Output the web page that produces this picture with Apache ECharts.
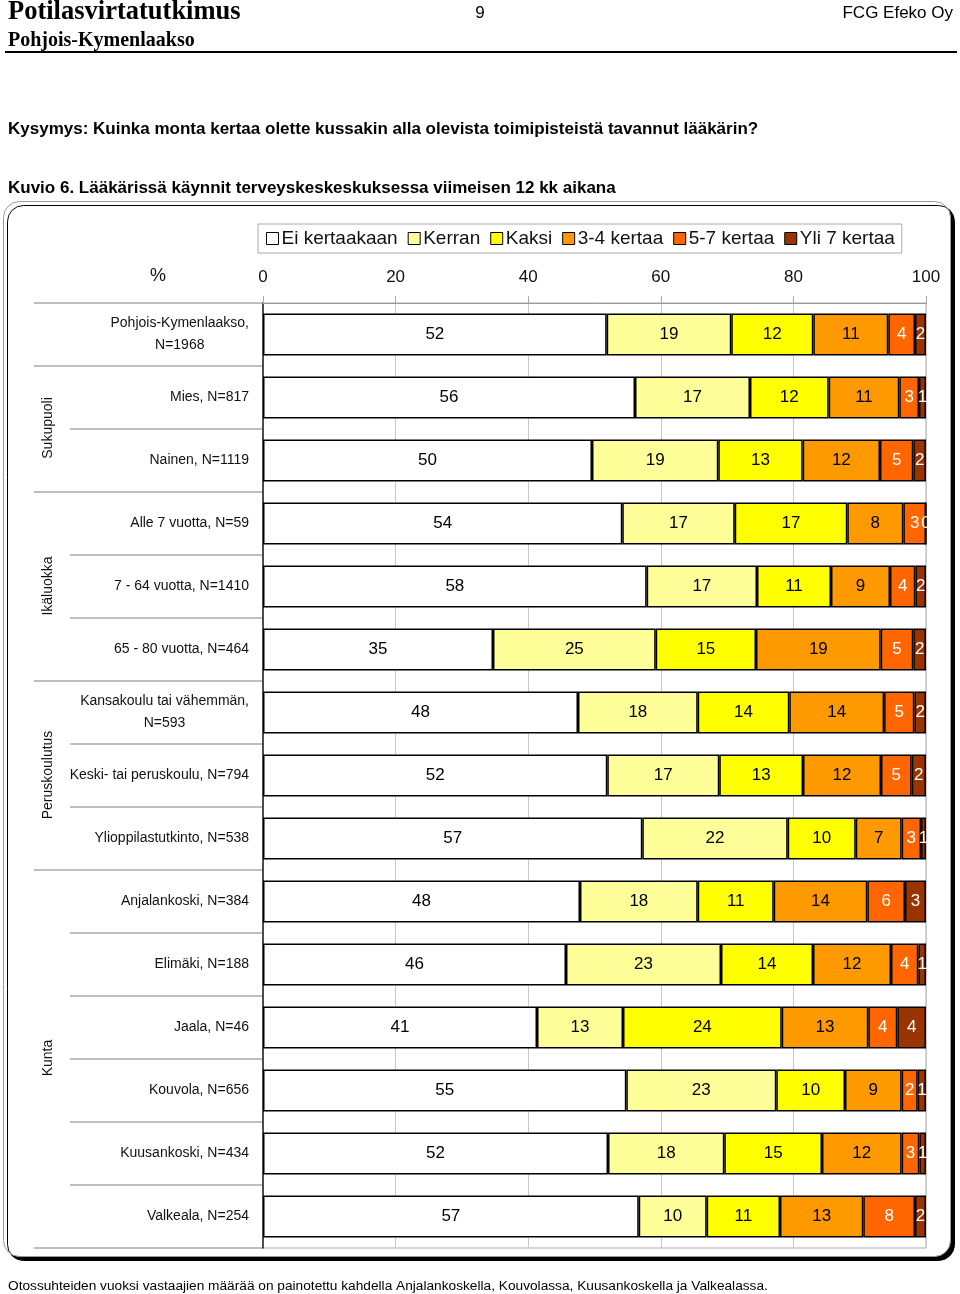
<!DOCTYPE html>
<html>
<head>
<meta charset="utf-8">
<script src="https://cdn.jsdelivr.net/npm/echarts@6/dist/echarts.min.js"></script>
<style>
html,body{margin:0;padding:0;background:#fff;}
#main{width:960px;height:1294px;}
</style>
</head>
<body>
<div id="main"></div>
<script>
// ---- data (shares in %; labels show rounded values) ----
const categories = [
  'Pohjois-Kymenlaakso,\nN=1968',
  'Mies, N=817',
  'Nainen, N=1119',
  'Alle 7 vuotta, N=59',
  '7 - 64 vuotta, N=1410',
  '65 - 80 vuotta, N=464',
  'Kansakoulu tai vähemmän,\nN=593',
  'Keski- tai peruskoulu, N=794',
  'Ylioppilastutkinto, N=538',
  'Anjalankoski, N=384',
  'Elimäki, N=188',
  'Jaala, N=46',
  'Kouvola, N=656',
  'Kuusankoski, N=434',
  'Valkeala, N=254'
];
const seriesNames = ['Ei kertaakaan', 'Kerran', 'Kaksi', '3-4 kertaa', '5-7 kertaa', 'Yli 7 kertaa'];
const eiKertaakaan = [51.84, 56.11, 49.62, 54.19, 57.87, 34.69, 47.51, 51.93, 57.21, 47.81, 45.70, 41.33, 54.80, 52.04, 56.67];
const kerran       = [18.79, 17.34, 19.05, 16.96, 16.64, 24.54, 18.06, 16.89, 21.93, 17.76, 23.38, 12.97, 22.62, 17.54, 10.25];
const kaksi        = [12.37, 11.87, 12.73, 16.98, 11.16, 15.13, 13.81, 12.63, 10.26, 11.46, 13.88, 23.94, 10.36, 14.73, 11.06];
const kertaa34     = [11.31, 10.65, 11.66,  8.45,  8.90, 18.81, 14.30, 11.76,  6.93, 14.12, 11.76, 13.06,  8.55, 12.02, 12.56];
const kertaa57     = [ 4.03,  2.97,  5.02,  3.42,  3.82,  4.91,  4.56,  4.63,  2.92,  5.68,  4.12,  4.37,  2.42,  2.66,  7.80];
const yli7         = [ 1.66,  1.06,  1.92,  0.00,  1.61,  1.92,  1.76,  2.16,  0.75,  3.17,  1.16,  4.33,  1.25,  1.01,  1.66];
const groupNames = ['Sukupuoli', 'Ikäluokka', 'Peruskoulutus', 'Kunta'];
const groupBoundaries = [0, 1, 3, 6, 9, 15];
const xTickLabels = [0, 20, 40, 60, 80, 100];

// ---- style ----
const colors = ['#FFFFFF', '#FFFF99', '#FFFF00', '#FF9900', '#FF6600', '#993300'];
const labelColors = ['#000', '#000', '#000', '#000', '#fff', '#fff'];
const SANS = "'Liberation Sans', Arial, sans-serif";
const SERIF = "'Liberation Serif', 'Times New Roman', serif";
const allValues = [eiKertaakaan, kerran, kaksi, kertaa34, kertaa57, yli7];

const chart = echarts.init(document.getElementById('main'), null, {renderer: 'canvas'});

const gridTop = 303, gridBottom = 46;

const series = seriesNames.map((name, i) => ({
  name: name,
  type: 'bar',
  stack: 'total',
  xAxisIndex: 0,
  yAxisIndex: 0,
  barWidth: 42,
  data: allValues[i],
  itemStyle: {color: colors[i], borderColor: '#000', borderWidth: 1.5},
  label: {
    show: true,
    position: 'inside',
    formatter: p => String(Math.round(p.value)),
    color: labelColors[i],
    fontSize: 17,
    fontFamily: SANS
  },
  labelLayout: {hideOverlap: false}
}));

const option = {
  backgroundColor: '#fff',
  animation: false,
  legend: {
    data: seriesNames,
    left: 258,
    top: 224,
    orient: 'horizontal',
    backgroundColor: '#fff',
    borderColor: '#aaa',
    borderWidth: 1,
    padding: [5, 7, 5, 8],
    itemGap: 10,
    itemWidth: 12,
    itemHeight: 12,
    icon: 'rect',
    itemStyle: {borderColor: '#000', borderWidth: 1},
    textStyle: {fontSize: 19, fontFamily: SANS, color: '#111', padding: [0, 0, 0, -2]},
    selectedMode: false
  },
  grid: [
    {left: 263, right: 34, top: gridTop, bottom: gridBottom, show: true, borderColor: '#aaa', borderWidth: 1, containLabel: false},
    {left: 70, width: 193, top: gridTop, bottom: gridBottom, containLabel: false},
    {left: 34, width: 36, top: gridTop, bottom: gridBottom, containLabel: false}
  ],
  xAxis: [
    {
      gridIndex: 0, type: 'value', position: 'top', min: 0, max: 100, interval: 20,
      axisLine: {show: true, lineStyle: {color: '#999', width: 1}},
      axisTick: {show: true, length: 7, lineStyle: {color: '#aaa'}},
      splitLine: {show: true, lineStyle: {color: '#c8c8c8', width: 1}},
      axisLabel: {
        margin: 17, fontSize: 17, fontFamily: SANS, color: '#111',
        formatter: v => String(xTickLabels[xTickLabels.indexOf(v)] ?? v)
      }
    },
    {gridIndex: 1, type: 'value', show: false},
    {gridIndex: 2, type: 'value', show: false}
  ],
  yAxis: [
    {
      gridIndex: 0, type: 'category', inverse: true, data: categories,
      axisLine: {show: true, lineStyle: {color: '#222', width: 1.5}},
      axisTick: {show: false},
      splitLine: {show: false},
      axisLabel: {
        margin: 14, fontSize: 14, fontFamily: SANS, color: '#111', lineHeight: 22,
        formatter: v => v.indexOf('\n') >= 0 ? v.split('\n').map(s => '{c|' + s + '}').join('\n') : v,
        rich: {c: {align: 'center', fontSize: 14, fontFamily: SANS, color: '#111', lineHeight: 22}}
      }
    },
    {
      gridIndex: 1, type: 'category', inverse: true, data: categories,
      axisLine: {show: false}, axisTick: {show: false}, axisLabel: {show: false},
      splitLine: {show: true, lineStyle: {color: '#aaa', width: 1.5}}
    },
    {
      gridIndex: 2, type: 'category', inverse: true, data: categories,
      axisLine: {show: false}, axisTick: {show: false}, axisLabel: {show: false},
      splitLine: {show: true, interval: (idx) => groupBoundaries.indexOf(idx) >= 0, lineStyle: {color: '#aaa', width: 1.5}}
    }
  ],
  series: series,
  graphic: [
    {type: 'rect', z: -10, silent: true,
      shape: {x: 3.5, y: 201.5, width: 947, height: 1055, r: 16},
      style: {fill: '#fff', stroke: '#999', lineWidth: 1, shadowColor: '#000', shadowOffsetX: 4, shadowOffsetY: 4, shadowBlur: 0}},
    {type: 'text', x: 8, y: 12, style: {text: 'Potilasvirtatutkimus', font: "bold 26.5px " + SERIF, fill: '#000', verticalAlign: 'middle'}},
    {type: 'text', x: 8, y: 41, style: {text: 'Pohjois-Kymenlaakso', font: "bold 20px " + SERIF, fill: '#000', verticalAlign: 'middle'}},
    {type: 'text', x: 480, y: 13, style: {text: '9', font: "17px " + SANS, fill: '#000', verticalAlign: 'middle', align: 'center'}},
    {type: 'text', x: 953, y: 13, style: {text: 'FCG Efeko Oy', font: "17px " + SANS, fill: '#000', verticalAlign: 'middle', align: 'right'}},
    {type: 'line', shape: {x1: 5, y1: 52, x2: 957, y2: 52}, style: {stroke: '#000', lineWidth: 2}},
    {type: 'text', x: 8, y: 129, style: {text: 'Kysymys: Kuinka monta kertaa olette kussakin alla olevista toimipisteistä tavannut lääkärin?', font: "bold 17px " + SANS, fill: '#000', verticalAlign: 'middle'}},
    {type: 'text', x: 8, y: 188, style: {text: 'Kuvio 6. Lääkärissä käynnit terveyskeskeskuksessa viimeisen 12 kk aikana', font: "bold 17px " + SANS, fill: '#000', verticalAlign: 'middle'}},
    {type: 'text', x: 158, y: 276, style: {text: '%', font: "18px " + SANS, fill: '#111', verticalAlign: 'middle', align: 'center'}},
    {type: 'text', x: 48, y: 428, rotation: Math.PI / 2, style: {text: groupNames[0], font: "14px " + SANS, fill: '#111', verticalAlign: 'middle', align: 'center'}},
    {type: 'text', x: 48, y: 586, rotation: Math.PI / 2, style: {text: groupNames[1], font: "14px " + SANS, fill: '#111', verticalAlign: 'middle', align: 'center'}},
    {type: 'text', x: 48, y: 775, rotation: Math.PI / 2, style: {text: groupNames[2], font: "14px " + SANS, fill: '#111', verticalAlign: 'middle', align: 'center'}},
    {type: 'text', x: 48, y: 1058, rotation: Math.PI / 2, style: {text: groupNames[3], font: "14px " + SANS, fill: '#111', verticalAlign: 'middle', align: 'center'}},
    {type: 'text', x: 8, y: 1286, style: {text: 'Otossuhteiden vuoksi vastaajien määrää on painotettu kahdella Anjalankoskella, Kouvolassa, Kuusankoskella ja Valkealassa.', font: "13.7px " + SANS, fill: '#000', verticalAlign: 'middle'}}
  ]
};
chart.setOption(option);
</script>
</body>
</html>
